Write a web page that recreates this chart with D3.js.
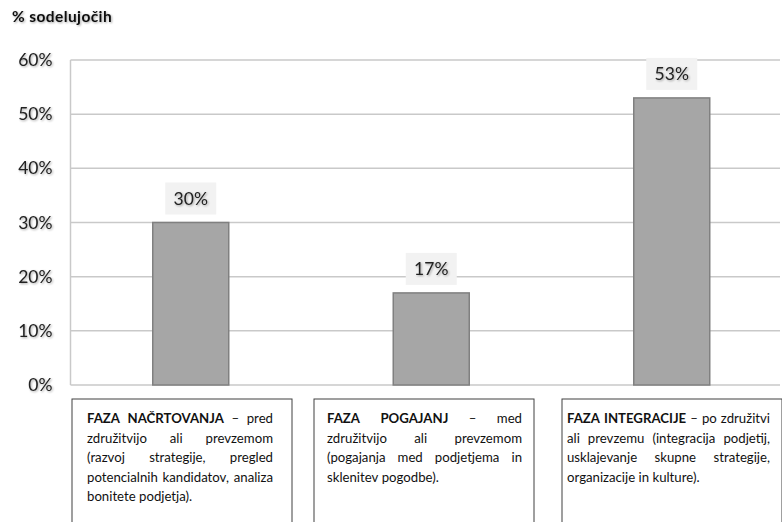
<!DOCTYPE html>
<html>
<head>
<meta charset="utf-8">
<script src="https://cdn.jsdelivr.net/npm/d3@7"></script>
<style>
  body { margin: 0; background: #fff; }
  svg { display: block; font-family: Lato, "Open Sans", sans-serif; }
</style>
</head>
<body>
<div id="chart"></div>
<script>
// data
const phases = ['FAZA NAČRTOVANJA', 'FAZA POGAJANJ', 'FAZA INTEGRACIJE'];
const shares = [30, 17, 53];
const yTicks = [0, 10, 20, 30, 40, 50, 60];
const yTitle = '% sodelujočih';

// descriptions under the bars (line breaks as in the original)
const descLines = [
  ['FAZA NAČRTOVANJA – pred', 'združitvijo ali prevzemom', '(razvoj strategije, pregled', 'potencialnih kandidatov, analiza', 'bonitete podjetja).'],
  ['FAZA POGAJANJ – med', 'združitvijo ali prevzemom', '(pogajanja med podjetjema in', 'sklenitev pogodbe).'],
  ['FAZA INTEGRACIJE – po združitvi', 'ali prevzemu (integracija podjetij,', 'usklajevanje skupne strategije,', 'organizacije in kulture).']
];

const width = 782, height = 522;
const plotL = 70.5, plotR = 792, plotT = 60, plotB = 385;
const gridR = 780;

const svg = d3.select('#chart').append('svg')
  .attr('width', width)
  .attr('height', height);

const defs = svg.append('defs');
const f = defs.append('filter').attr('id', 'shadow')
  .attr('x', '-20%').attr('y', '-20%').attr('width', '140%').attr('height', '140%');
f.append('feDropShadow')
  .attr('dx', 1).attr('dy', 1).attr('stdDeviation', 0.8)
  .attr('flood-color', '#000').attr('flood-opacity', 0.35);

const x = d3.scaleBand()
  .domain(phases)
  .range([plotL, plotR])
  .paddingInner(0.684)
  .paddingOuter(0.342);

const y = d3.scaleLinear()
  .domain([0, 60])
  .range([plotB, plotT]);

// title
svg.append('text')
  .attr('x', 12)
  .attr('y', 22)
  .attr('font-size', 15.5)
  .attr('font-weight', 'bold')
  .attr('letter-spacing', 0.4)
  .attr('fill', '#111')
  .attr('filter', 'url(#shadow)')
  .text(yTitle);

// gridlines
svg.append('g')
  .selectAll('line')
  .data(yTicks)
  .join('line')
  .attr('x1', plotL)
  .attr('x2', gridR)
  .attr('y1', d => y(d))
  .attr('y2', d => y(d))
  .attr('stroke', '#c9c9c9')
  .attr('stroke-width', 1.5);

svg.append('line')
  .attr('x1', plotL).attr('x2', plotL)
  .attr('y1', plotT).attr('y2', plotB)
  .attr('stroke', '#c9c9c9')
  .attr('stroke-width', 1.5);

// y axis labels
const yAxis = d3.axisLeft(y)
  .tickValues(yTicks)
  .tickFormat(d => d + '%')
  .tickSize(0)
  .tickPadding(18);

svg.append('g')
  .attr('transform', `translate(${plotL},0)`)
  .call(yAxis)
  .call(g => g.select('.domain').remove())
  .call(g => g.selectAll('text')
    .attr('font-family', 'Lato, sans-serif')
    .attr('font-size', 17.5)
    .attr('fill', '#222')
    .attr('filter', 'url(#shadow)'));

// bars
svg.append('g')
  .selectAll('rect')
  .data(phases)
  .join('rect')
  .attr('x', d => x(d))
  .attr('y', (d, i) => y(shares[i]))
  .attr('width', x.bandwidth())
  .attr('height', (d, i) => y(0) - y(shares[i]))
  .attr('fill', '#a6a6a6')
  .attr('stroke', '#808080')
  .attr('stroke-width', 1.5);

// value labels
const lab = svg.append('g')
  .selectAll('g')
  .data(phases)
  .join('g')
  .attr('transform', (d, i) => `translate(${x(d) + x.bandwidth() / 2},${y(shares[i])})`);

lab.append('rect')
  .attr('x', -25.5)
  .attr('y', -40)
  .attr('width', 51)
  .attr('height', 32)
  .attr('fill', '#f2f2f2');

lab.append('text')
  .attr('y', -18)
  .attr('text-anchor', 'middle')
  .attr('font-size', 17.5)
  .attr('fill', '#222')
  .attr('filter', 'url(#shadow)')
  .text((d, i) => shares[i] + '%');

// description boxes
const boxLeft = [72, 314, 562];
const boxW = 220;
const boxTop = 399;
const textLeft = [87, 327, 567];
const textRight = [273, 522, 770];
const lineH = 19.5;
const descSize = 13.2;

svg.append('g')
  .selectAll('rect')
  .data(phases)
  .join('rect')
  .attr('x', (d, i) => boxLeft[i])
  .attr('y', boxTop)
  .attr('width', boxW)
  .attr('height', 140)
  .attr('fill', '#fff')
  .attr('stroke', '#404040')
  .attr('stroke-width', 1);

const measure = svg.append('text').attr('font-size', descSize).attr('visibility', 'hidden');
function wordWidth(w, bold) {
  measure.attr('font-weight', bold ? 'bold' : 'normal').text(w);
  return measure.node().getComputedTextLength();
}
const spaceW = (() => {
  measure.attr('font-weight', 'normal').text('a a'); const ab = measure.node().getComputedTextLength();
  measure.text('aa'); return ab - measure.node().getComputedTextLength();
})();

descLines.forEach((lines, bi) => {
  const boldWords = phases[bi].split(' ').length;
  const g = svg.append('g');
  let wordIdx = 0;
  lines.forEach((line, li) => {
    const words = line.split(' ').map(w => {
      const bold = wordIdx < boldWords;
      wordIdx++;
      return { w, bold, width: wordWidth(w, bold) };
    });
    const total = d3.sum(words, d => d.width);
    const avail = textRight[bi] - textLeft[bi];
    const last = li === lines.length - 1;
    const gap = last || words.length < 2 ? spaceW : Math.max(2, (avail - total) / (words.length - 1));
    let cx = textLeft[bi];
    words.forEach(wd => {
      g.append('text')
        .attr('x', cx)
        .attr('y', boxTop + 24 + li * lineH)
        .attr('font-size', descSize)
        .attr('font-weight', wd.bold ? 'bold' : 'normal')
        .attr('fill', '#111')
        .text(wd.w);
      cx += wd.width + gap;
    });
  });
});
measure.remove();
</script>
</body>
</html>
